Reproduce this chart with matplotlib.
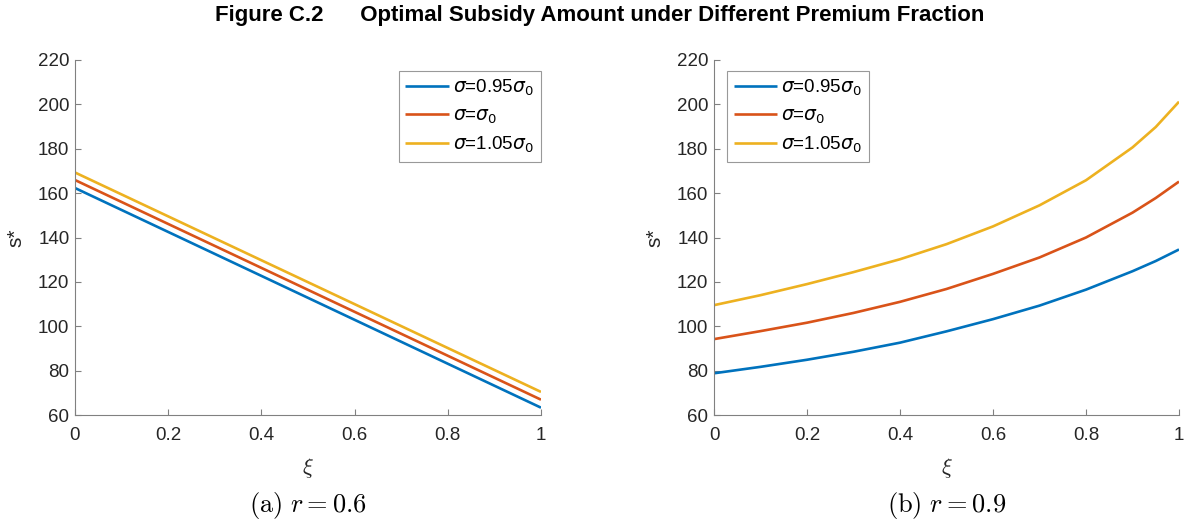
import matplotlib
matplotlib.use('Agg')
import matplotlib.pyplot as plt
import numpy as np

plt.rcParams['font.family'] = ['Liberation Sans', 'DejaVu Sans']
plt.rcParams['mathtext.fontset'] = 'cm'

# data
xi_a = [0.0, 1.0]
s_a_095 = [162.3, 63.3]
s_a_100 = [165.9, 66.9]
s_a_105 = [169.3, 70.4]

xi_b = [0.0, 0.1, 0.2, 0.3, 0.4, 0.5, 0.6, 0.7, 0.8, 0.9, 0.95, 1.0]
s_b_095 = [78.8, 81.7, 84.9, 88.5, 92.6, 97.7, 103.2, 109.3, 116.5, 124.8, 129.4, 134.6]
s_b_100 = [94.2, 97.8, 101.6, 106.0, 111.0, 116.8, 123.6, 131.0, 140.0, 151.2, 157.8, 165.2]
s_b_105 = [109.5, 114.0, 119.0, 124.4, 130.2, 137.0, 145.0, 154.5, 165.8, 180.6, 189.8, 201.2]

labels = [r'$\sigma$=0.95$\sigma_0$', r'$\sigma$=$\sigma_0$', r'$\sigma$=1.05$\sigma_0$']
colors = ['#0072BD', '#D95319', '#EDB120']
yticks = [60, 80, 100, 120, 140, 160, 180, 200, 220]
xticks = [0, 0.2, 0.4, 0.6, 0.8, 1]

fig = plt.figure(figsize=(11.85, 5.27), dpi=100)
W, H = 1185, 527
ax1 = fig.add_axes([75 / W, 1 - 415 / H, 466 / W, 355 / H])
ax2 = fig.add_axes([714 / W, 1 - 415 / H, 465 / W, 355 / H])

panels = [(ax1, xi_a, [s_a_095, s_a_100, s_a_105], 0.695, r'$\mathrm{(a)}\ r=0.6$'),
          (ax2, xi_b, [s_b_095, s_b_100, s_b_105], 0.028, r'$\mathrm{(b)}\ r=0.9$')]

for ax, x, ys, leg_x, cap in panels:
    for y, c, lab in zip(ys, colors, labels):
        ax.plot(x, y, color=c, lw=1.9, label=lab, solid_capstyle='butt')
    ax.set_xlim(0, 1)
    ax.set_ylim(60, 220)
    ax.set_xticks(xticks)
    ax.set_xticklabels(['0', '0.2', '0.4', '0.6', '0.8', '1'])
    ax.set_yticks(yticks)
    for side in ['top', 'right']:
        ax.spines[side].set_visible(False)
    for side in ['left', 'bottom']:
        ax.spines[side].set_color('#808080')
        ax.spines[side].set_linewidth(0.8)
    ax.tick_params(direction='in', length=4, width=0.8, color='#808080',
                   labelsize=13.5, labelcolor='#262626')
    ax.tick_params(axis='x', pad=9)
    ax.tick_params(axis='y', pad=4)
    ax.set_xlabel(r'$\xi$', fontsize=16, color='#262626')
    ax.xaxis.set_label_coords(0.5, -0.115)
    ax.set_ylabel('s*', fontsize=15, color='#262626')
    ax.yaxis.set_label_coords(-0.106, 0.5)
    leg = ax.legend(loc='upper left', bbox_to_anchor=(leg_x, 0.969), fontsize=13.5,
                    frameon=True, fancybox=False, edgecolor='#808080',
                    handlelength=2.3, handletextpad=0.25, labelspacing=0.5,
                    borderpad=0.35, borderaxespad=0)
    leg.get_frame().set_linewidth(0.8)
    for t in leg.get_texts():
        t.set_math_fontfamily('dejavusans')
    ax.text(0.5, -0.254, cap, transform=ax.transAxes, ha='center', va='center',
            fontsize=19, color='black')

fig.text(0.506, 1 - 16 / H, 'Figure C.2      Optimal Subsidy Amount under Different Premium Fraction',
         ha='center', va='center', fontsize=16, fontweight='bold')

fig.savefig('out.png', dpi=100)
